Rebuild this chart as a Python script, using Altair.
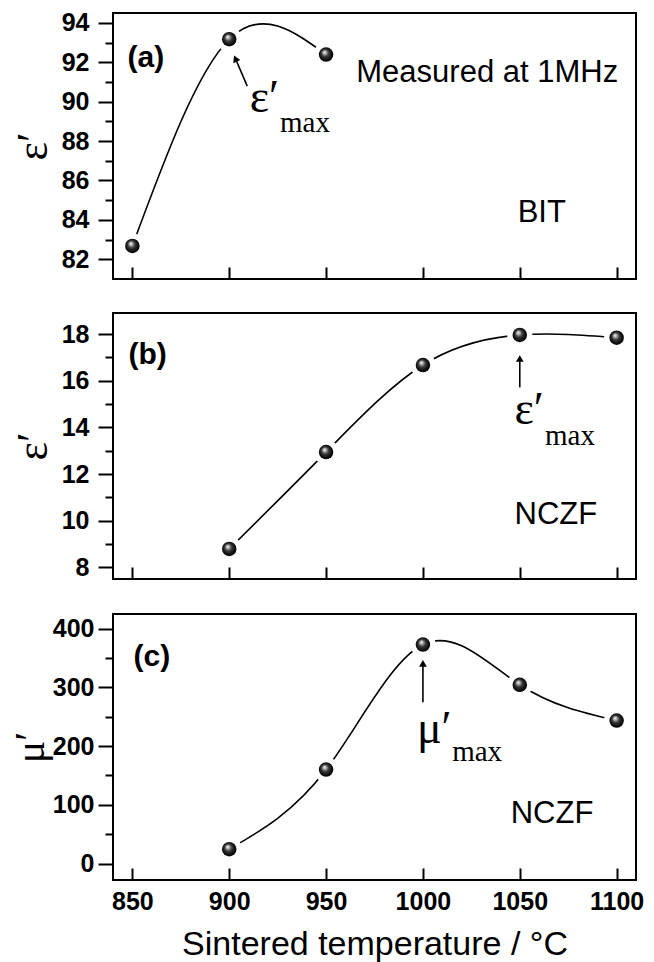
import altair as alt
import pandas as pd

# ---------------- data ----------------
# Panel (a): BIT, permittivity
temp_a = [850, 900, 950]
eps_a = [82.68, 93.17, 92.39]
# Panel (b): NCZF, permittivity
temp_b = [900, 950, 1000, 1050, 1100]
eps_b = [8.79, 12.94, 16.67, 17.96, 17.84]
# Panel (c): NCZF, permeability
temp_c = [900, 950, 1000, 1050, 1100]
mu_c = [24.5, 160.0, 373.0, 304.5, 243.5]

x_ticks = [850, 900, 950, 1000, 1050, 1100]
x_domain = [840, 1110]

ya_domain = [81, 94.5]
ya_ticks = [82, 83, 84, 85, 86, 87, 88, 89, 90, 91, 92, 93, 94]
yb_domain = [7.5, 18.9]
yb_ticks = [8, 9, 10, 11, 12, 13, 14, 15, 16, 17, 18]
yc_domain = [-28, 425]
yc_ticks = [0, 50, 100, 150, 200, 250, 300, 350, 400]

# annotations (data coordinates)
letters = ["(a)", "(b)", "(c)"]
letter_x = [847.5, 848.0, 850.6]
letter_y = [91.74, 16.70, 336.0]

names_a = ["Measured at 1MHz", "BIT"]
names_a_x = [965.6, 1048.9]
names_a_y = [90.98, 83.91]
names_b = ["NCZF"]
names_b_x = [1047.3]
names_b_y = [9.85]
names_c = ["NCZF"]
names_c_x = [1045.3]
names_c_y = [68.4]

symbols = ["ε′", "ε′", "μ′"]
symbol_x = [910.6, 1047.3, 996.9]
symbol_y = [89.47, 14.15, 204.7]
sub_x = [926.2, 1063.0, 1015.1]
sub_y = [88.46, 13.24, 174.0]

arrow_tail_x = [909.3, 1050, 1000]
arrow_tail_y = [90.79, 15.71, 274.6]
arrow_head_x = [903.2, 1050, 1000]
arrow_head_y = [92.19, 16.95, 341.0]
arrow_angle = [336, 0, 0]

SANS = "Liberation Sans"
SERIF = "Liberation Serif"

sphere = {
    "gradient": "radial",
    "x1": 0.38, "y1": 0.32, "r1": 0.0,
    "x2": 0.5, "y2": 0.5, "r2": 0.55,
    "stops": [
        {"offset": 0.0, "color": "#ffffff"},
        {"offset": 0.15, "color": "#c8c8c8"},
        {"offset": 0.45, "color": "#3a3a3a"},
        {"offset": 0.8, "color": "#0a0a0a"},
        {"offset": 1.0, "color": "#000000"},
    ],
}


def panel(i, temps, vals, ydom, yticks, mod, ytitle, names, names_x, names_y,
          bottom, label_pad, title_size, title_pad):
    xaxis = alt.Axis(
        values=x_ticks, offset=-12, tickSize=12, domain=False, grid=False, format="d",
        labels=bottom, labelFont=SANS, labelFontSize=25, labelFontWeight="bold",
        labelPadding=9, labelColor="black",
        title="Sintered temperature / °C" if bottom else None,
        titleFont=SANS, titleFontSize=34, titleFontWeight="normal",
        titlePadding=13, titleColor="black",
    )
    yaxis = alt.Axis(
        values=yticks, domain=False, grid=False, format="d",
        tickSize={"condition": {"test": f"datum.value % {mod} === 0", "value": 15}, "value": 8},
        labelExpr=f"datum.value % {mod} === 0 ? datum.label : ''",
        labelFont=SANS, labelFontSize=25, labelFontWeight="bold",
        labelPadding=label_pad, labelColor="black",
        title=ytitle, titleFont=SERIF, titleFontSize=title_size, titleFontWeight="normal",
        titlePadding=title_pad, titleColor="black",
    )
    xs = alt.Scale(domain=x_domain, nice=False, zero=False)
    ys = alt.Scale(domain=ydom, nice=False, zero=False)

    def X(f="x"):
        return alt.X(f"{f}:Q", scale=xs, axis=xaxis)

    def Y(f="y"):
        return alt.Y(f"{f}:Q", scale=ys, axis=yaxis)

    pts = pd.DataFrame({"x": temps, "y": vals})
    base = alt.Chart(pts)
    line = base.mark_line(interpolate="natural", color="black", strokeWidth=1.6).encode(x=X(), y=Y())
    halo = base.mark_circle(color="white", opacity=1, size=640).encode(x=X(), y=Y())
    dots = base.mark_circle(fill=sphere, opacity=1, size=210, strokeWidth=0).encode(x=X(), y=Y())

    letter = alt.Chart(pd.DataFrame({"x": [letter_x[i]], "y": [letter_y[i]], "t": [letters[i]]})).mark_text(
        align="left", baseline="alphabetic", font=SANS, fontSize=30, fontWeight="bold", color="black"
    ).encode(x=X(), y=Y(), text="t:N")
    nm = alt.Chart(pd.DataFrame({"x": names_x, "y": names_y, "t": names})).mark_text(
        align="left", baseline="alphabetic", font=SANS, fontSize=31, color="black"
    ).encode(x=X(), y=Y(), text="t:N")
    sym = alt.Chart(pd.DataFrame({"x": [symbol_x[i]], "y": [symbol_y[i]], "t": [symbols[i]]})).mark_text(
        align="left", baseline="alphabetic", font=SERIF, fontSize=46, color="black"
    ).encode(x=X(), y=Y(), text="t:N")
    sub = alt.Chart(pd.DataFrame({"x": [sub_x[i]], "y": [sub_y[i]], "t": ["max"]})).mark_text(
        align="left", baseline="alphabetic", font=SERIF, fontSize=29, color="black"
    ).encode(x=X(), y=Y(), text="t:N")
    arr = pd.DataFrame({"x": [arrow_tail_x[i]], "y": [arrow_tail_y[i]],
                        "x2": [arrow_head_x[i]], "y2": [arrow_head_y[i]]})
    shaft = alt.Chart(arr).mark_rule(color="black", strokeWidth=1.6).encode(
        x=X(), y=Y(), x2="x2:Q", y2="y2:Q")
    head = alt.Chart(arr).mark_point(shape="triangle-up", filled=True, color="black", opacity=1,
                                     size=60, angle=arrow_angle[i]).encode(x=X("x2"), y=Y("y2"))

    return alt.layer(line, halo, dots, shaft, head, letter, nm, sym, sub).properties(width=523, height=266)


pa = panel(0, temp_a, eps_a, ya_domain, ya_ticks, 2, "ε′", names_a, names_a_x, names_a_y, False, 9, 44, 6)
pb = panel(1, temp_b, eps_b, yb_domain, yb_ticks, 2, "ε′", names_b, names_b_x, names_b_y, False, 9, 44, 6)
pc = panel(2, temp_c, mu_c, yc_domain, yc_ticks, 100, "μ′", names_c, names_c_x, names_c_y, True, 4, 42, 0)

chart = alt.vconcat(pa, pb, pc, spacing=31).properties(
    padding={"left": 0, "top": 1, "right": 0, "bottom": 0}
).configure_view(stroke="black", strokeWidth=2).configure_axis(
    tickColor="black", tickWidth=2
)

chart.save("out.html", embed_options={"renderer": "svg", "actions": False})
